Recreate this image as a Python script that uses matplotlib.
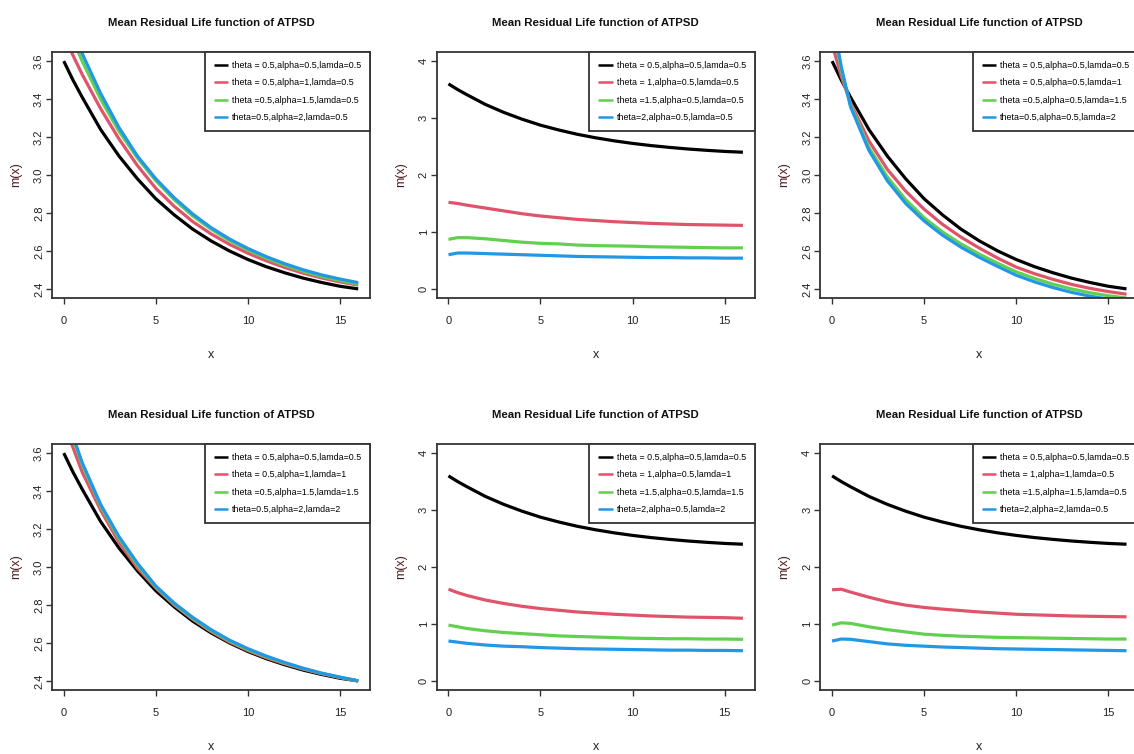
import matplotlib
matplotlib.use("Agg")
import matplotlib.pyplot as plt

plt.rcParams['font.family'] = ['Liberation Sans', 'DejaVu Sans']

# x grid the curves were evaluated on
x = [0, 0.5, 1, 2, 3, 4, 5, 6, 7, 8, 9, 10, 11, 12, 13, 14, 15, 16]

# baseline curve theta=0.5, alpha=0.5, lamda=0.5 (same in every panel)
m_base = [3.60, 3.50, 3.41, 3.24, 3.10, 2.98, 2.875, 2.79, 2.715, 2.653, 2.60, 2.555, 2.517, 2.485, 2.457, 2.434, 2.414, 2.40]

# panel 1: alpha varies
p1_red = [3.74, 3.63, 3.53, 3.35, 3.19, 3.05, 2.93, 2.835, 2.755, 2.69, 2.635, 2.588, 2.548, 2.513, 2.483, 2.458, 2.437, 2.42]
p1_green = [3.82, 3.71, 3.60, 3.40, 3.23, 3.09, 2.97, 2.87, 2.785, 2.715, 2.655, 2.605, 2.562, 2.525, 2.493, 2.466, 2.444, 2.425]
p1_blue = [3.86, 3.75, 3.64, 3.43, 3.25, 3.10, 2.98, 2.88, 2.795, 2.723, 2.663, 2.613, 2.570, 2.533, 2.501, 2.474, 2.452, 2.433]

# panel 2: theta varies
p2_red = [1.52, 1.50, 1.47, 1.42, 1.37, 1.32, 1.28, 1.25, 1.22, 1.20, 1.18, 1.165, 1.15, 1.14, 1.13, 1.125, 1.12, 1.115]
p2_green = [0.87, 0.90, 0.90, 0.88, 0.85, 0.82, 0.80, 0.79, 0.77, 0.76, 0.755, 0.75, 0.74, 0.735, 0.73, 0.725, 0.72, 0.72]
p2_blue = [0.60, 0.63, 0.63, 0.62, 0.61, 0.60, 0.59, 0.58, 0.57, 0.565, 0.56, 0.555, 0.55, 0.55, 0.545, 0.545, 0.54, 0.54]

# panel 3: lamda varies
p3_red = [3.69, 3.52, 3.38, 3.18, 3.03, 2.915, 2.82, 2.74, 2.673, 2.615, 2.562, 2.515, 2.48, 2.45, 2.424, 2.403, 2.386, 2.372]
p3_green = [3.80, 3.55, 3.37, 3.145, 2.99, 2.87, 2.775, 2.70, 2.637, 2.583, 2.535, 2.49, 2.455, 2.425, 2.40, 2.38, 2.364, 2.352]
p3_blue = [3.84, 3.57, 3.36, 3.13, 2.97, 2.85, 2.758, 2.683, 2.62, 2.566, 2.518, 2.472, 2.437, 2.407, 2.382, 2.362, 2.346, 2.334]

# panel 4: alpha and lamda vary
p4_red = [3.75, 3.63, 3.50, 3.30, 3.13, 2.995, 2.89, 2.80, 2.725, 2.66, 2.605, 2.56, 2.522, 2.49, 2.462, 2.438, 2.418, 2.40]
p4_green = [3.82, 3.68, 3.54, 3.32, 3.15, 3.01, 2.895, 2.805, 2.73, 2.665, 2.61, 2.565, 2.527, 2.494, 2.465, 2.44, 2.419, 2.40]
p4_blue = [3.84, 3.69, 3.55, 3.33, 3.16, 3.02, 2.90, 2.81, 2.735, 2.67, 2.615, 2.57, 2.531, 2.497, 2.467, 2.441, 2.42, 2.40]

# panel 5: theta and lamda vary
p5_red = [1.61, 1.55, 1.50, 1.42, 1.36, 1.31, 1.27, 1.24, 1.21, 1.19, 1.17, 1.155, 1.14, 1.13, 1.12, 1.115, 1.11, 1.10]
p5_green = [0.98, 0.95, 0.92, 0.88, 0.85, 0.83, 0.81, 0.79, 0.78, 0.77, 0.76, 0.75, 0.745, 0.74, 0.74, 0.735, 0.735, 0.73]
p5_blue = [0.70, 0.68, 0.66, 0.63, 0.61, 0.60, 0.585, 0.575, 0.565, 0.56, 0.555, 0.55, 0.545, 0.54, 0.54, 0.535, 0.535, 0.53]

# panel 6: theta and alpha vary
p6_red = [1.60, 1.61, 1.56, 1.47, 1.39, 1.33, 1.29, 1.26, 1.235, 1.21, 1.19, 1.17, 1.16, 1.15, 1.14, 1.135, 1.13, 1.125]
p6_green = [0.98, 1.02, 1.01, 0.95, 0.90, 0.86, 0.82, 0.80, 0.785, 0.775, 0.765, 0.76, 0.755, 0.75, 0.745, 0.74, 0.735, 0.735]
p6_blue = [0.70, 0.735, 0.73, 0.69, 0.65, 0.625, 0.61, 0.595, 0.585, 0.575, 0.565, 0.56, 0.555, 0.55, 0.545, 0.54, 0.535, 0.53]

labels1 = ["theta = 0.5,alpha=0.5,lamda=0.5", "theta = 0.5,alpha=1,lamda=0.5",
           "theta =0.5,alpha=1.5,lamda=0.5", "theta=0.5,alpha=2,lamda=0.5"]
labels2 = ["theta = 0.5,alpha=0.5,lamda=0.5", "theta = 1,alpha=0.5,lamda=0.5",
           "theta =1.5,alpha=0.5,lamda=0.5", "theta=2,alpha=0.5,lamda=0.5"]
labels3 = ["theta = 0.5,alpha=0.5,lamda=0.5", "theta = 0.5,alpha=0.5,lamda=1",
           "theta =0.5,alpha=0.5,lamda=1.5", "theta=0.5,alpha=0.5,lamda=2"]
labels4 = ["theta = 0.5,alpha=0.5,lamda=0.5", "theta = 0.5,alpha=1,lamda=1",
           "theta =0.5,alpha=1.5,lamda=1.5", "theta=0.5,alpha=2,lamda=2"]
labels5 = ["theta = 0.5,alpha=0.5,lamda=0.5", "theta = 1,alpha=0.5,lamda=1",
           "theta =1.5,alpha=0.5,lamda=1.5", "theta=2,alpha=0.5,lamda=2"]
labels6 = ["theta = 0.5,alpha=0.5,lamda=0.5", "theta = 1,alpha=1,lamda=0.5",
           "theta =1.5,alpha=1.5,lamda=0.5", "theta=2,alpha=2,lamda=0.5"]

x_ticks = [0, 5, 10, 15]
y_ticks_narrow = [2.4, 2.6, 2.8, 3.0, 3.2, 3.4, 3.6]
y_ticks_wide = [0, 1, 2, 3, 4]

colors = ["#000000", "#DF536B", "#61D04F", "#2297E6"]
TITLE = "Mean Residual Life function of ATPSD"

W, H = 1134, 754
fig = plt.figure(figsize=(W / 100, H / 100), dpi=100)


def pad4(lo, hi):
    d = (hi - lo) * 0.04
    return lo - d, hi + d


def panel(left, top, series, labels, yticks, ylim):
    # axes placed in pixel units, 318 x 246 plot region
    aw, ah = 318, 246
    ax = fig.add_axes([left / W, 1 - (top + ah) / H, aw / W, ah / H])
    for ys, c, lab in zip(series, colors, labels):
        ax.plot(x, ys, color=c, lw=2.3, label=lab, solid_capstyle='butt')
    ax.set_xlim(*pad4(0, 16))
    ax.set_ylim(*pad4(*ylim))
    ax.set_xticks(x_ticks)
    ax.set_yticks(yticks)
    if yticks[0] < 1:
        ax.set_yticklabels([str(t) for t in yticks])
    else:
        ax.set_yticklabels(["%.1f" % t for t in yticks])
    for sp in ax.spines.values():
        sp.set_color("#333333")
        sp.set_linewidth(1.3)
    ax.tick_params(axis='both', length=4.3, width=1, color="#333333",
                   labelsize=8, labelcolor="#222222")
    ax.tick_params(axis='x', pad=8.6)
    ax.tick_params(axis='y', pad=1.5)
    for t in ax.get_yticklabels():
        t.set_rotation(90)
        t.set_va('center')
    ax.set_title(TITLE, fontsize=8.2, fontweight='bold', pad=19, color="#111111")
    ax.set_xlabel("x", fontsize=9, color="#222222", va='center')
    ax.xaxis.set_label_coords(0.5, -57 / ah)
    ax.set_ylabel("m(x)", fontsize=9, color="#4a1c1c", va='center', ha='center')
    ax.yaxis.set_label_coords(-36 / aw, 0.5)
    leg = ax.legend(loc='upper right', bbox_to_anchor=(1, 1), borderaxespad=0,
                    fontsize=6.4, fancybox=False, framealpha=1, edgecolor="#333333",
                    borderpad=1.0, handlelength=1.6, handletextpad=0.45,
                    labelspacing=0.95)
    leg.get_frame().set_linewidth(1.3)
    for ln in leg.get_lines():
        ln.set_linewidth(1.8)
    return ax


cols = [52, 436.7, 820.3]
rows = [52, 444]

panel(cols[0], rows[0], [m_base, p1_red, p1_green, p1_blue], labels1, y_ticks_narrow, (2.4, 3.6))
panel(cols[1], rows[0], [m_base, p2_red, p2_green, p2_blue], labels2, y_ticks_wide, (0, 4))
panel(cols[2], rows[0], [m_base, p3_red, p3_green, p3_blue], labels3, y_ticks_narrow, (2.4, 3.6))
panel(cols[0], rows[1], [m_base, p4_red, p4_green, p4_blue], labels4, y_ticks_narrow, (2.4, 3.6))
panel(cols[1], rows[1], [m_base, p5_red, p5_green, p5_blue], labels5, y_ticks_wide, (0, 4))
panel(cols[2], rows[1], [m_base, p6_red, p6_green, p6_blue], labels6, y_ticks_wide, (0, 4))

fig.savefig("out.png", dpi=100)
